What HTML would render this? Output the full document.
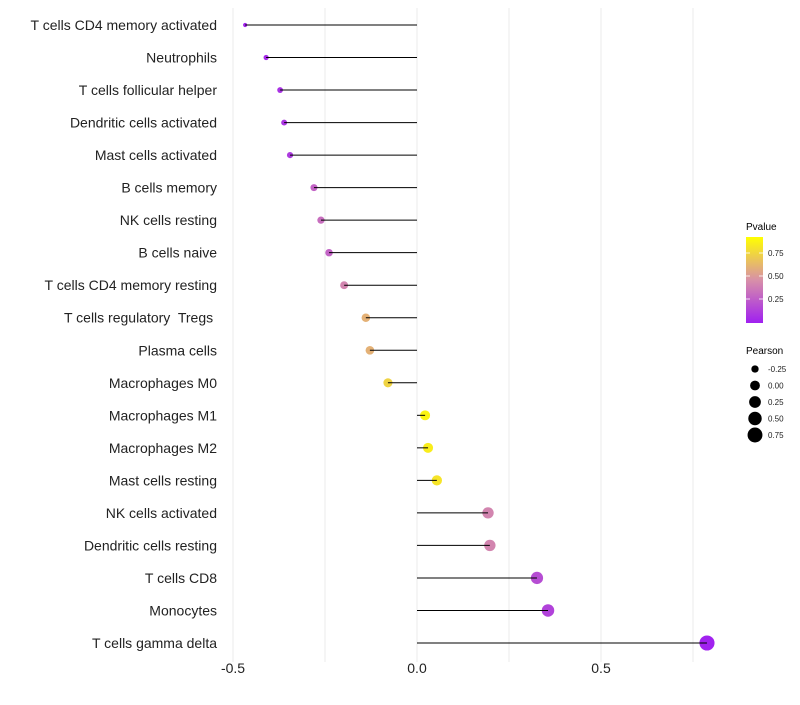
<!DOCTYPE html>
<html><head><meta charset="utf-8"><style>
body{margin:0;background:#fff;font-family:"Liberation Sans",sans-serif}
text{white-space:pre}
</style></head><body>
<svg id="chart" width="800" height="700" xmlns="http://www.w3.org/2000/svg" font-family="Liberation Sans, sans-serif">
<defs><linearGradient id="pg" x1="0" y1="1" x2="0" y2="0">
<stop offset="0" stop-color="#A020F0"/><stop offset="0.5" stop-color="#D890A8"/><stop offset="1" stop-color="#FFFF00"/></linearGradient></defs>
<g id="grid"></g>
<g id="marks"></g>
<g id="ylabels"></g>
<g id="xlabels"></g>
<g>
<text x="746" y="230" font-size="10">Pvalue</text>
<rect x="746" y="237" width="17" height="86" fill="url(#pg)"/>
<g id="cbticks"></g>
</g>
<g>
<text x="746" y="354" font-size="10">Pearson</text>
<g id="sizeleg"></g>
</g>
</svg>
<script>
const categories=["T cells CD4 memory activated","Neutrophils","T cells follicular helper","Dendritic cells activated","Mast cells activated","B cells memory","NK cells resting","B cells naive","T cells CD4 memory resting","T cells regulatory  Tregs ","Plasma cells","Macrophages M0","Macrophages M1","Macrophages M2","Mast cells resting","NK cells activated","Dendritic cells resting","T cells CD8","Monocytes","T cells gamma delta"];
const pearson=[-0.467,-0.41,-0.372,-0.361,-0.345,-0.28,-0.261,-0.239,-0.198,-0.139,-0.128,-0.079,0.022,0.030,0.054,0.193,0.198,0.326,0.356,0.788];
const pvalue=[0.02,0.05,0.08,0.1,0.12,0.3,0.35,0.3,0.45,0.65,0.65,0.8,0.95,0.92,0.88,0.45,0.45,0.2,0.15,0.01];
const xTicks=[-0.5,0,0.5];
const xTickLabels=["-0.5","0.0","0.5"];
const cbTicks=[0.25,0.5,0.75];
const sizeLegend=[-0.25,0,0.25,0.5,0.75];
const NS="http://www.w3.org/2000/svg";
const xs=v=>417+v*368;
const ys=i=>25+i*(618/19);
const rs=v=>Math.sqrt(Math.max(2.2,24+42*v));
const cbY=p=>322-p*92;
function lerp(a,b,t){return a.map((x,i)=>Math.round(x+(b[i]-x)*t));}
function col(p){const A=[160,32,240],M=[216,144,168],B=[255,255,0];const c=p<0.5?lerp(A,M,p/0.5):lerp(M,B,(p-0.5)/0.5);return `rgb(${c})`;}
function mk(t,a,parent){const e=document.createElementNS(NS,t);for(const k in a)e.setAttribute(k,a[k]);document.getElementById(parent).appendChild(e);return e;}
[-0.5,-0.25,0,0.25,0.5,0.75].forEach(v=>{const l=mk('line',{x1:xs(v),x2:xs(v),y1:8,y2:662,stroke:'#ebebeb','stroke-width':1},'grid');

});
xTicks.forEach((v,i)=>{const t=mk('text',{x:xs(v),y:673,'font-size':14,'text-anchor':'middle',fill:'#222'},'xlabels');t.textContent=xTickLabels[i];

});
categories.forEach((c,i)=>{const y=ys(i);
const t=mk('text',{x:217,y:y+5,'font-size':14,'text-anchor':'end',fill:'#222'},'ylabels');t.textContent=c;


const ci=mk('circle',{cx:xs(pearson[i]),cy:y,r:rs(pearson[i]),fill:col(pvalue[i])},'marks');


const l=mk('line',{x1:xs(0),x2:xs(pearson[i]),y1:y,y2:y,stroke:'#000','stroke-width':1},'marks');

});
cbTicks.forEach(p=>{const y=cbY(p);
mk('line',{x1:746,x2:750,y1:y,y2:y,stroke:'#fff','stroke-width':0.8},'cbticks');
mk('line',{x1:759,x2:763,y1:y,y2:y,stroke:'#fff','stroke-width':0.8},'cbticks');
const t=mk('text',{x:768,y:y+3,'font-size':8,fill:'#222'},'cbticks');t.textContent=p.toFixed(2);

});
sizeLegend.forEach((v,i)=>{const y=369+i*16.5;
const c=mk('circle',{cx:755,cy:y,r:rs(v),fill:'#000'},'sizeleg');


const t=mk('text',{x:768,y:y+3,'font-size':8,fill:'#222'},'sizeleg');t.textContent=v.toFixed(2);

});
</script>
</body></html>
